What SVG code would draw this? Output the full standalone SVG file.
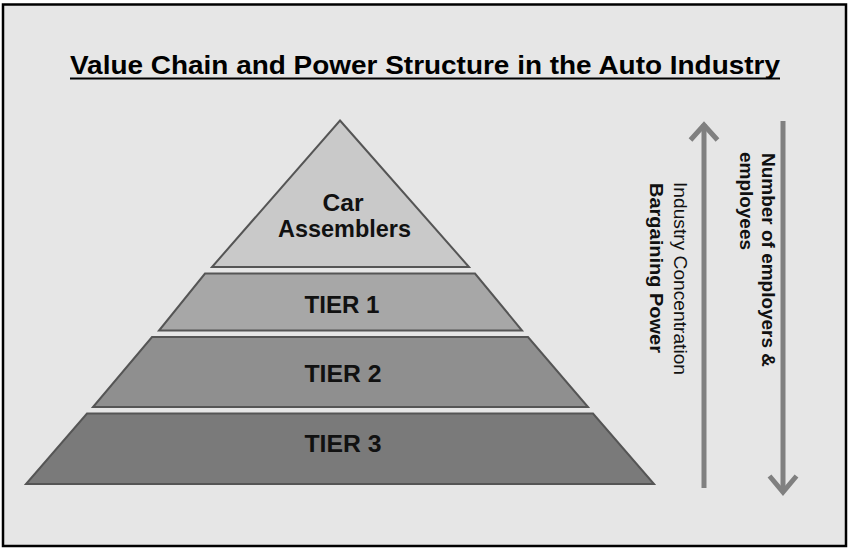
<svg xmlns="http://www.w3.org/2000/svg" width="850" height="549" viewBox="0 0 850 549">
<defs>
<style>
.tier{stroke:#555555;stroke-width:2;stroke-linejoin:miter}
.lbl{font-family:"Liberation Sans",Arial,sans-serif;font-weight:bold;font-size:24px;fill:#111111;text-anchor:middle}
.ax{stroke:#808080;stroke-width:5;fill:none;stroke-linecap:butt}
.vb{font-family:"Liberation Sans",Arial,sans-serif;font-weight:bold;font-size:19px;fill:#111111}
.vr{font-family:"Liberation Sans",Arial,sans-serif;font-size:19px;fill:#111111}
</style>
</defs>
<rect x="0" y="0" width="850" height="549" fill="#ffffff"/>
<rect x="3" y="4.5" width="843" height="541.5" fill="#e6e6e6" stroke="#000000" stroke-width="2.5"/>
<g id="title">
<text x="425" y="74" text-anchor="middle" font-family="'Liberation Sans',Arial,sans-serif" font-weight="bold" font-size="26" fill="#000000" textLength="710" lengthAdjust="spacingAndGlyphs">Value Chain and Power Structure in the Auto Industry</text>
<line x1="70" y1="78.5" x2="780" y2="78.5" stroke="#000000" stroke-width="2.2"/>
</g>
<g id="car-assemblers">
<polygon class="tier" fill="#c9c9c9" points="340,120.5 469,267 212,267"/>
<text class="lbl" x="343" y="211" textLength="41" lengthAdjust="spacingAndGlyphs">Car</text>
<text class="lbl" x="344.5" y="237" textLength="133" lengthAdjust="spacingAndGlyphs">Assemblers</text>
</g>
<g id="tier1">
<polygon class="tier" fill="#a7a7a7" points="205,273.5 475,273.5 522,330.5 159,330.5"/>
<text class="lbl" x="342" y="313" textLength="75" lengthAdjust="spacingAndGlyphs">TIER 1</text>
</g>
<g id="tier2">
<polygon class="tier" fill="#8f8f8f" points="152,337 528,337 588,407 93,407"/>
<text class="lbl" x="343" y="382" textLength="77" lengthAdjust="spacingAndGlyphs">TIER 2</text>
</g>
<g id="tier3">
<polygon class="tier" fill="#7a7a7a" points="87,413.5 593,413.5 654,484 26,484"/>
<text class="lbl" x="343" y="452" textLength="77" lengthAdjust="spacingAndGlyphs">TIER 3</text>
</g>
<g id="connectors">
<line class="ax" x1="704" y1="124" x2="704" y2="488"/>
<polyline class="ax" points="690.5,140 704,125 717.5,140"/>
<line class="ax" x1="783" y1="121" x2="783" y2="492"/>
<polyline class="ax" points="769.5,476 783,492 796.5,476"/>
</g>
<g id="label-power">
<text class="vr" transform="translate(673.5,182) rotate(90)" textLength="193" lengthAdjust="spacingAndGlyphs">Industry Concentration</text>
<text class="vb" font-size="20" transform="translate(649.5,183) rotate(90)" textLength="170" lengthAdjust="spacingAndGlyphs">Bargaining Power</text>
</g>
<g id="label-employers">
<text class="vb" transform="translate(761.5,153) rotate(90)" textLength="214" lengthAdjust="spacingAndGlyphs">Number of employers &amp;</text>
<text class="vb" transform="translate(739.5,152) rotate(90)" textLength="98" lengthAdjust="spacingAndGlyphs">employees</text>
</g>
</svg>
